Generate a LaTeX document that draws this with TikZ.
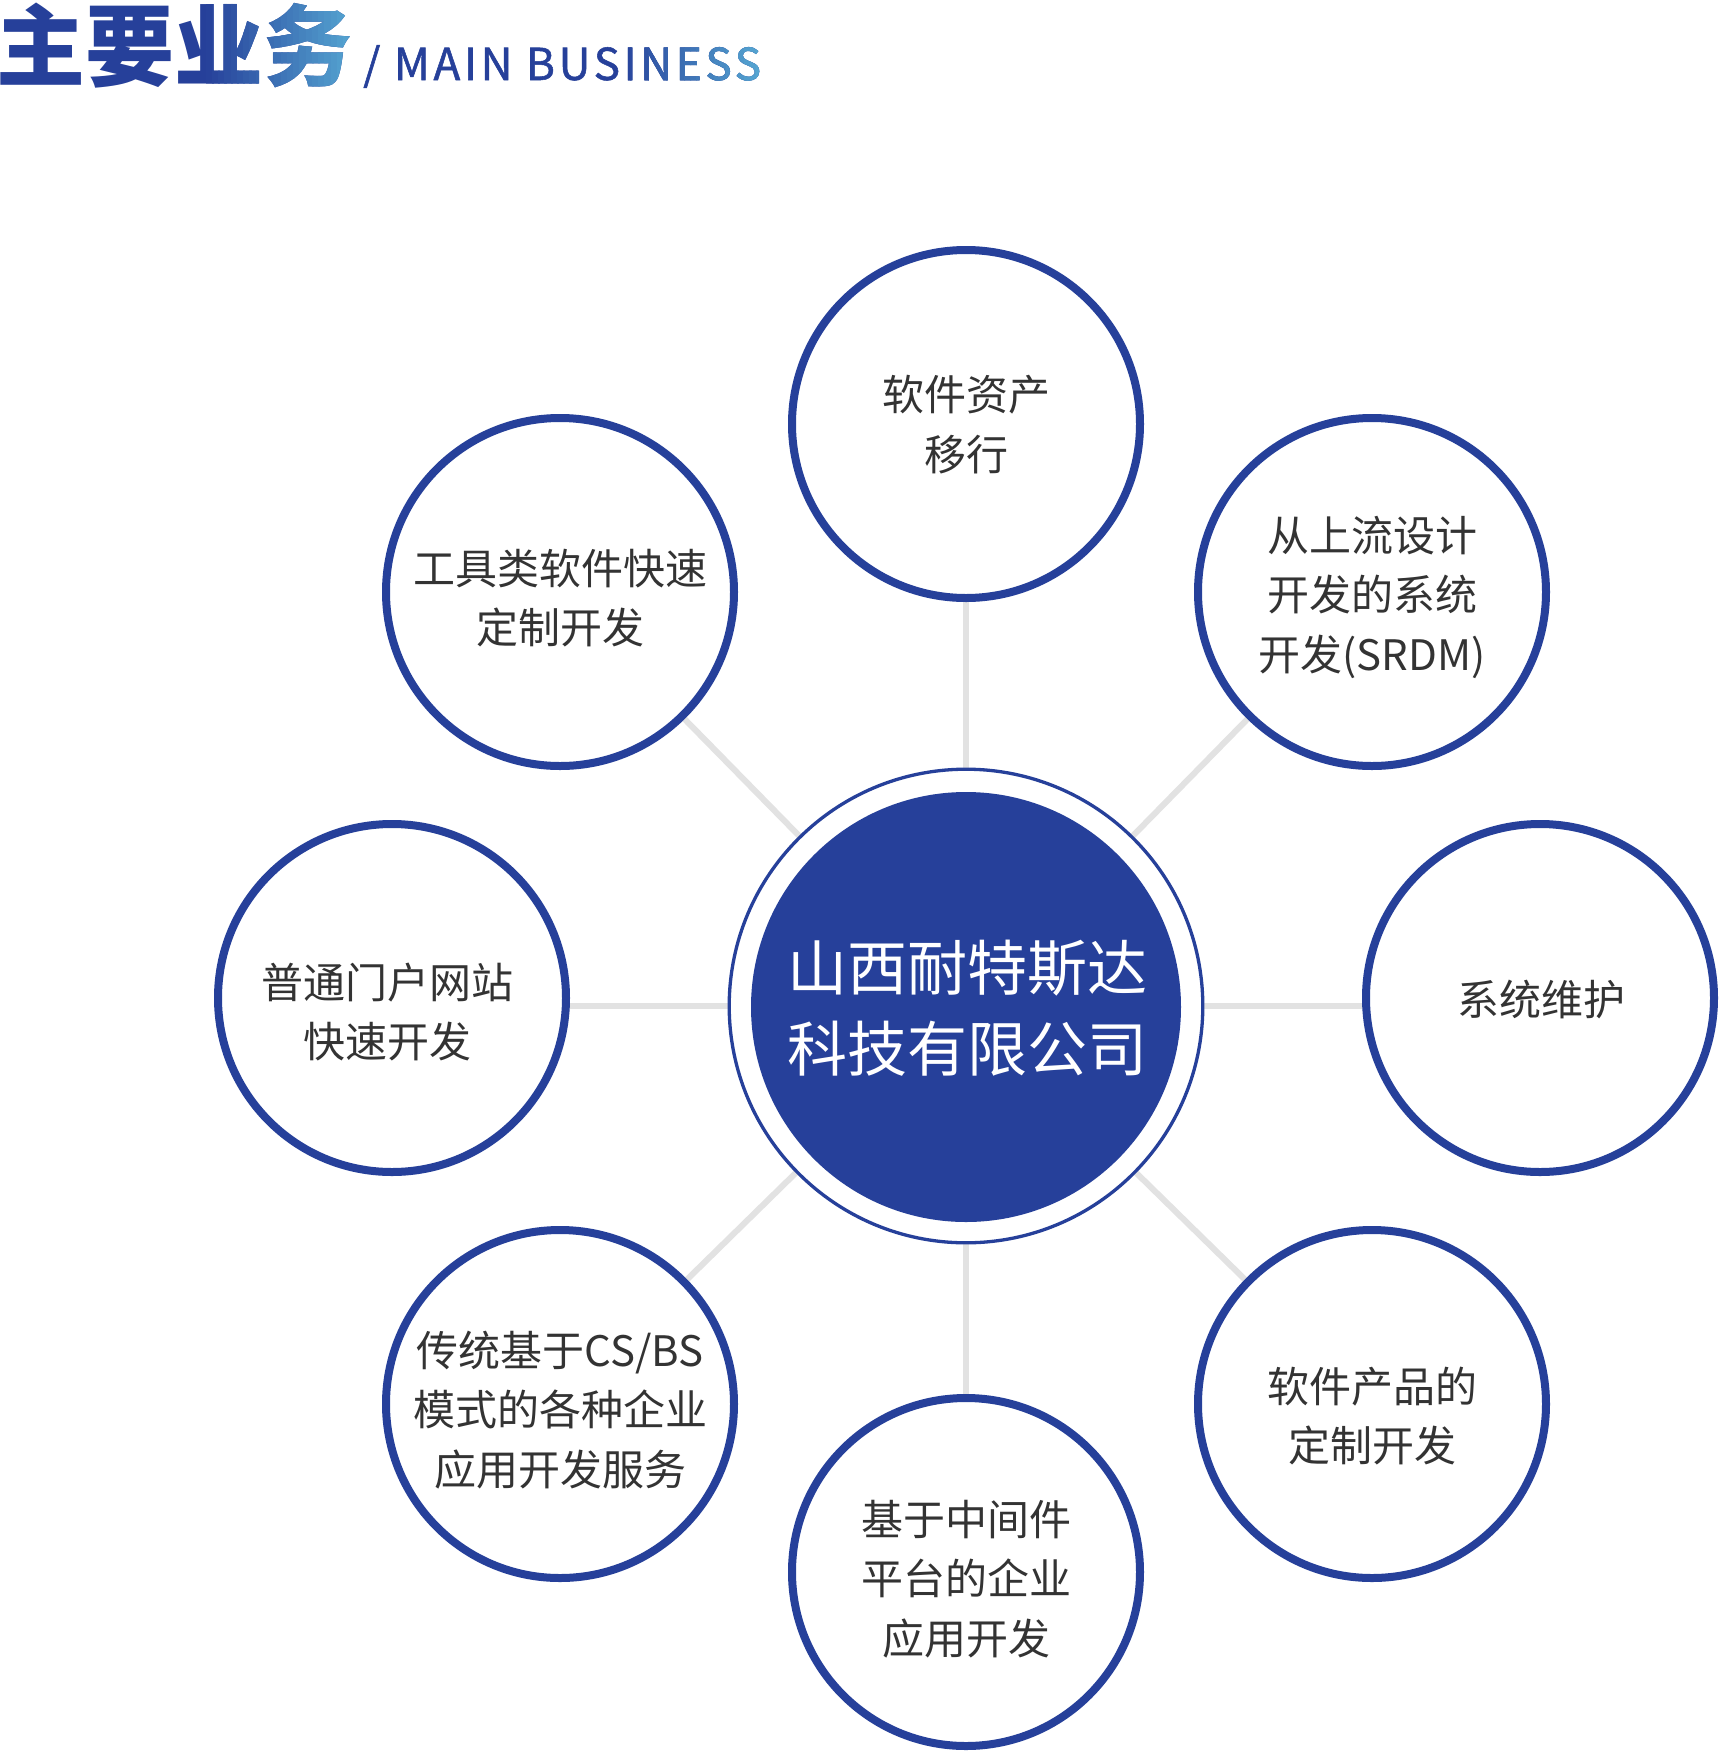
\documentclass[tikz,border=0pt]{standalone}
\usepackage{fontspec}
\newfontfamily\cjk{Noto Sans CJK SC}
\newfontfamily\cjkspaced[LetterSpace=8.5,FakeBold=1.2]{Noto Sans CJK SC}
\usetikzlibrary{calc}
\definecolor{brand}{RGB}{38,64,154}
\definecolor{brandlight}{RGB}{86,168,211}
\definecolor{txt}{RGB}{51,51,51}
\definecolor{linegray}{RGB}{226,226,226}
\pgfdeclarelayer{backdrop}
\pgfdeclarelayer{bg}
\pgfsetlayers{backdrop,bg,main}
\begin{document}
\begin{tikzpicture}[x=1pt,y=-1pt,
  sat/.style={circle,draw=brand,line width=8pt,fill=white,minimum size=348pt,inner sep=0pt},
  sattext/.style={font=\cjk\fontsize{42}{59.5}\selectfont,text=txt,align=center,inner sep=0pt},
  ringnode/.style={circle,draw=brand,line width=3.3pt,fill=white,minimum size=473.6pt,inner sep=0pt},
  corenode/.style={circle,fill=brand,minimum size=430pt,inner sep=0pt},
  coretextstyle/.style={font=\cjk\fontsize{60}{81}\selectfont,text=white,align=center,inner sep=0pt},
  conn/.style={draw=linegray,line width=6pt},
  headstyle/.style={font=\cjk\bfseries\fontsize{89}{89}\selectfont,anchor=base west,inner sep=0pt},
  substyle/.style={font=\cjkspaced\fontsize{44}{44}\selectfont,anchor=base west,inner sep=0pt}
]
\useasboundingbox (0,0) rectangle (1719,1751);
\begin{pgfonlayer}{backdrop}
  \fill[white] (0,0) rectangle (1719,1751);
\end{pgfonlayer}

% ---- heading ----
\node[headstyle,text=brand] (head) at (-4,79) {主要业务};
\foreach \i in {0,...,23} {
  \pgfmathsetmacro\xa{206+\i*6.25}
  \pgfmathsetmacro\xb{\xa+7.5}
  \pgfmathtruncatemacro\p{100*(\i+0.5)/24}
  \colorlet{stripc}{brandlight!\p!brand}
  \begin{scope}
    \clip (\xa,0) rectangle (\xb,110);
    \node[headstyle,text=stripc] (headstrip\i) at (-4,79) {主要业务};
  \end{scope}
}
\node[substyle,text=brand] (sub) at (363,80) {/ MAIN BUSINESS};
\foreach \i in {0,...,23} {
  \pgfmathsetmacro\xa{618+\i*6}
  \pgfmathsetmacro\xb{\xa+7.2}
  \pgfmathtruncatemacro\p{100*(\i+0.5)/24}
  \colorlet{stripc}{brandlight!\p!brand}
  \begin{scope}
    \clip (\xa,0) rectangle (\xb,110);
    \node[substyle,text=stripc] (substrip\i) at (363,80) {/ MAIN BUSINESS};
  \end{scope}
}

% ---- centre ----
\node[ringnode] (ring) at (966,1006) {};
\node[corenode] (core) at (966,1007) {};
\node[coretextstyle] (coretxt) at (967,1008.5) {山西耐特斯达\\科技有限公司};

% ---- satellites ----
\node[sat] (T)  at (966,424) {};
\node[sat] (UL) at (560,592) {};
\node[sat] (UR) at (1372,592) {};
\node[sat] (L)  at (392,998) {};
\node[sat] (R)  at (1540,998) {};
\node[sat] (LL) at (560,1404) {};
\node[sat] (LR) at (1372,1404) {};
\node[sat] (B)  at (966,1572) {};

\node[sattext] (tT)  at (966,424.5) {软件资产\\移行};
\node[sattext] (tUL) at (560,598) {工具类软件快速\\定制开发};
\node[sattext] (tUR) at (1372,597) {从上流设计\\开发的系统\\开发(SRDM)};
\node[sattext] (tL)  at (387,1012) {普通门户网站\\快速开发};
\node[sattext] (tR)  at (1541,999) {系统维护};
\node[sattext] (tLL) at (560,1410) {传统基于CS/BS\\模式的各种企业\\应用开发服务};
\node[sattext] (tLR) at (1372,1416) {软件产品的\\定制开发};
\node[sattext] (tB)  at (966,1579) {基于中间件\\平台的企业\\应用开发};

% ---- connectors ----
\begin{pgfonlayer}{bg}
  \draw[conn] (ring.center) -- (T.center);
  \draw[conn] (ring.center) -- (B.center);
  \draw[conn] (ring.center) -- (ring.center -| L.center);
  \draw[conn] (ring.center) -- (ring.center -| R.center);
  \draw[conn] (ring.center) -- (UL.center);
  \draw[conn] (ring.center) -- (UR.center);
  \draw[conn] (ring.center) -- (LL.center);
  \draw[conn] (ring.center) -- (LR.center);
\end{pgfonlayer}
\end{tikzpicture}
\end{document}
